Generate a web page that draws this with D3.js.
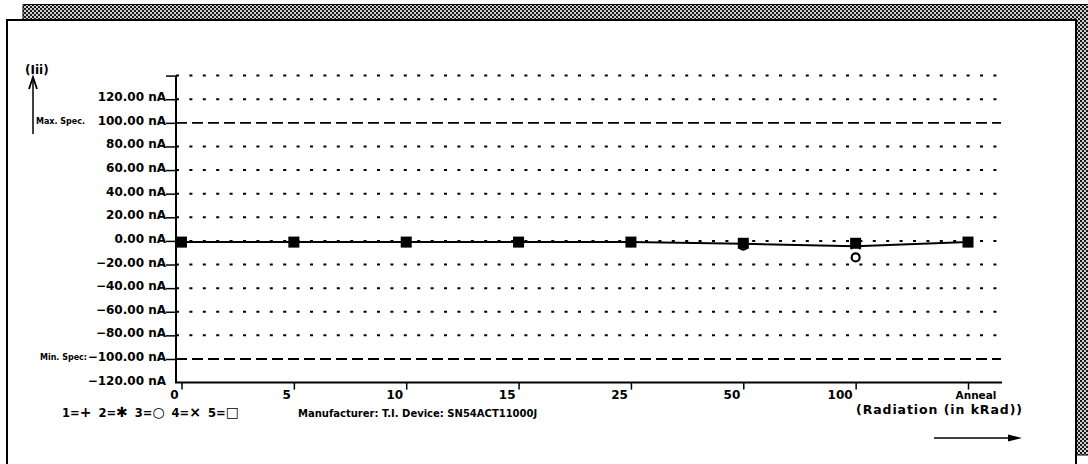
<!DOCTYPE html>
<html><head><meta charset="utf-8">
<script src="https://cdn.jsdelivr.net/npm/d3@7"></script>
<style>
body{margin:0;background:#fff}
svg{display:block}
text{font-family:"DejaVu Sans",sans-serif;font-weight:bold;fill:#000}
</style>
</head><body>
<svg id="chart" width="1088" height="464"></svg>
<script>
// Radiation steps along the x axis
const doses = ["0", "5", "10", "15", "25", "50", "100", "Anneal"];

// Gridline values (nA); 140 is drawn without a label, -120 without a gridline
const gridValues = [140, 120, 80, 60, 40, 20, 0, -20, -40, -60, -80];
const labelValues = [120, 100, 80, 60, 40, 20, 0, -20, -40, -60, -80, -100, -120];
const specMax = 100;
const specMin = -100;

// Leakage current per device (nA) at each step
const device1 = [-1, -1, -1, -1, -1, -2, -2, -1];
const device2 = [-1, -1, -1, -1, -1, -2, -2, -1];
const device3 = [-1, -1, -1, -1, -1, -4, -14, -1];
const device4 = [-1, -1, -1, -1, -1, -2, -3, -1];
const device5 = [-1, -1, -1, -1, -1, -2, -2, -1];

// Legend entries: device number and its marker glyph
const legendIds = ["1", "2", "3", "4", "5"];
const legendGlyphs = ["+", "\u2731", "\u25CB", "\u00D7", "\u25A1"];
const infoText = "Manufacturer: T.I.  Device: SN54ACT11000J";
const xTitle = "(Radiation (in kRad))";
const yTitle = "(Iii)";

const svg = d3.select("#chart");

// ---- framed panel with hatched drop shadow ----
const defs = svg.append("defs");
const pat = defs.append("pattern").attr("id", "hatch").attr("patternUnits", "userSpaceOnUse")
  .attr("width", 4).attr("height", 4);
pat.append("rect").attr("width", 4).attr("height", 4).attr("fill", "#d0d0d0");
pat.append("rect").attr("width", 2).attr("height", 2).attr("fill", "#1a1a1a");
pat.append("rect").attr("x", 2).attr("y", 2).attr("width", 2).attr("height", 2).attr("fill", "#1a1a1a");

svg.append("rect").attr("x", 23).attr("y", 4).attr("width", 1065).attr("height", 15).attr("fill", "url(#hatch)");
svg.append("rect").attr("x", 1075).attr("y", 4).attr("width", 13).attr("height", 451).attr("fill", "url(#hatch)");
svg.append("path").attr("d", "M23,19 V4.5 H1088").attr("fill", "none").attr("stroke", "#000").attr("stroke-width", 1);
svg.append("line").attr("x1", 1075).attr("x2", 1088).attr("y1", 455).attr("y2", 455).attr("stroke", "#000");

svg.append("path")
  .attr("d", "M7,464 V20 H1076 V464")
  .attr("fill", "none").attr("stroke", "#000").attr("stroke-width", 2);

// ---- scales ----
const x = d3.scalePoint().domain(doses).range([181.5, 968]);
const y = d3.scaleLinear().domain([-120, 140]).range([382.6, 75.6]);
const axisX = 176, gridEnd = 998;

// ---- gridlines ----
svg.append("g").selectAll("line").data(gridValues).join("line")
  .attr("x1", axisX).attr("x2", gridEnd)
  .attr("y1", d => y(d)).attr("y2", d => y(d))
  .attr("stroke", "#000").attr("stroke-width", 2).attr("stroke-dasharray", "3,10.4");

// spec limits
svg.append("g").selectAll("line").data([specMax, specMin]).join("line")
  .attr("x1", axisX).attr("x2", 1001)
  .attr("y1", d => y(d)).attr("y2", d => y(d))
  .attr("stroke", "#000").attr("stroke-width", 1.8).attr("stroke-dasharray", "11,5");

// ---- y axis ----
const yAxis = d3.axisLeft(y).tickValues([140, ...labelValues.filter(v => v !== -120)])
  .tickSize(10).tickFormat("");
const gy = svg.append("g").attr("transform", `translate(${axisX},0)`).call(yAxis);
gy.select(".domain").remove();
gy.selectAll(".tick line").attr("stroke", "#000").attr("stroke-width", 1.5);
svg.append("line").attr("x1", axisX).attr("x2", axisX).attr("y1", y(140)).attr("y2", y(-120))
  .attr("stroke", "#000").attr("stroke-width", 2);

const fmt = d => (d < 0 ? "\u2212" : "") + d3.format(".2f")(Math.abs(d)) + " nA";
svg.append("g").selectAll("text").data(labelValues).join("text")
  .attr("x", 166).attr("y", d => y(d) + 2)
  .attr("text-anchor", "end").attr("font-size", 12)
  .text(fmt);

svg.append("text").attr("x", 36).attr("y", y(specMax) + 1.5).attr("font-size", 8).text("Max. Spec.");
svg.append("text").attr("x", 87).attr("y", y(specMin) + 1.5).attr("text-anchor", "end")
  .attr("font-size", 8).text("Min. Spec:");

// y title with upward arrow
svg.append("text").attr("x", 25).attr("y", 74).attr("font-size", 12).text(yTitle);
svg.append("line").attr("x1", 33).attr("x2", 33).attr("y1", 80).attr("y2", 134)
  .attr("stroke", "#000").attr("stroke-width", 1.5);
svg.append("path").attr("d", "M29,89 L33,77 L37,89").attr("fill", "none")
  .attr("stroke", "#000").attr("stroke-width", 1.8);

// ---- x axis ----
const xAxis = d3.axisBottom(x).tickSize(7).tickFormat("");
const gx = svg.append("g").attr("transform", `translate(0,${y(-120)})`).call(xAxis);
gx.select(".domain").remove();
gx.selectAll(".tick line").attr("stroke", "#000").attr("stroke-width", 1.5);
svg.append("line").attr("x1", axisX - 1).attr("x2", 1002).attr("y1", y(-120)).attr("y2", y(-120))
  .attr("stroke", "#000").attr("stroke-width", 2);

svg.append("g").selectAll("text").data(doses).join("text")
  .attr("x", d => d === "Anneal" ? x(d) + 8 : x(d) - 3)
  .attr("y", 399)
  .attr("text-anchor", d => d === "Anneal" ? "middle" : "end")
  .attr("font-size", d => d === "Anneal" ? 10.5 : 12)
  .text(d => d);

// ---- data ----
const devices = [device1, device2, device3, device4, device5];
const meanLine = doses.map((d, i) => ({ dose: d, v: d3.mean(devices, s => s[i]) }));

svg.append("path").datum(meanLine)
  .attr("d", d3.line().x(d => x(d.dose)).y(d => y(d.v)))
  .attr("fill", "none").attr("stroke", "#000").attr("stroke-width", 2);

const pts = s => doses.map((d, i) => ({ dose: d, v: s[i] }));
const sym = (type, size) => d3.symbol().type(type).size(size)();

// 1 = plus, 2 = asterisk, 3 = circle, 4 = cross, 5 = square
svg.append("g").selectAll("path").data(pts(device1)).join("path")
  .attr("transform", d => `translate(${x(d.dose)},${y(d.v)})`)
  .attr("d", sym(d3.symbolPlus, 60)).attr("fill", "#000");
svg.append("g").selectAll("path").data(pts(device2)).join("path")
  .attr("transform", d => `translate(${x(d.dose)},${y(d.v)})`)
  .attr("d", sym(d3.symbolAsterisk, 60)).attr("fill", "none").attr("stroke", "#000").attr("stroke-width", 1.5);
svg.append("g").selectAll("path").data(pts(device4)).join("path")
  .attr("transform", d => `translate(${x(d.dose)},${y(d.v)})`)
  .attr("d", sym(d3.symbolX, 60)).attr("fill", "none").attr("stroke", "#000").attr("stroke-width", 1.5);
svg.append("g").selectAll("circle").data(pts(device3)).join("circle")
  .attr("cx", d => x(d.dose)).attr("cy", d => y(d.v)).attr("r", 4)
  .attr("fill", "#fff").attr("stroke", "#000").attr("stroke-width", 2.2);
svg.append("g").selectAll("rect").data(pts(device5)).join("rect")
  .attr("x", d => x(d.dose) - 5.5).attr("y", d => y(d.v) - 5.5)
  .attr("width", 11).attr("height", 11).attr("fill", "#000");

// ---- legend and captions ----
const legend = svg.append("text").attr("x", 62).attr("y", 417).attr("font-size", 11.5);
legendIds.forEach((id, i) => {
  legend.append("tspan").attr("dx", i ? 7 : 0).text(id + "=");
  legend.append("tspan").attr("font-size", 14).text(legendGlyphs[i]);
});
svg.append("text").attr("x", 298).attr("y", 417).attr("font-size", 10).text(infoText);
svg.append("text").attr("x", 1022).attr("y", 414).attr("text-anchor", "end").attr("font-size", 12.5)
  .attr("textLength", 166).attr("lengthAdjust", "spacing").text(xTitle);
svg.append("line").attr("x1", 934).attr("x2", 1016).attr("y1", 438).attr("y2", 438)
  .attr("stroke", "#000").attr("stroke-width", 1.5);
svg.append("path").attr("d", "M1008,434.5 L1022,438 L1008,441.5 Z").attr("fill", "#000");
</script>
</body></html>
